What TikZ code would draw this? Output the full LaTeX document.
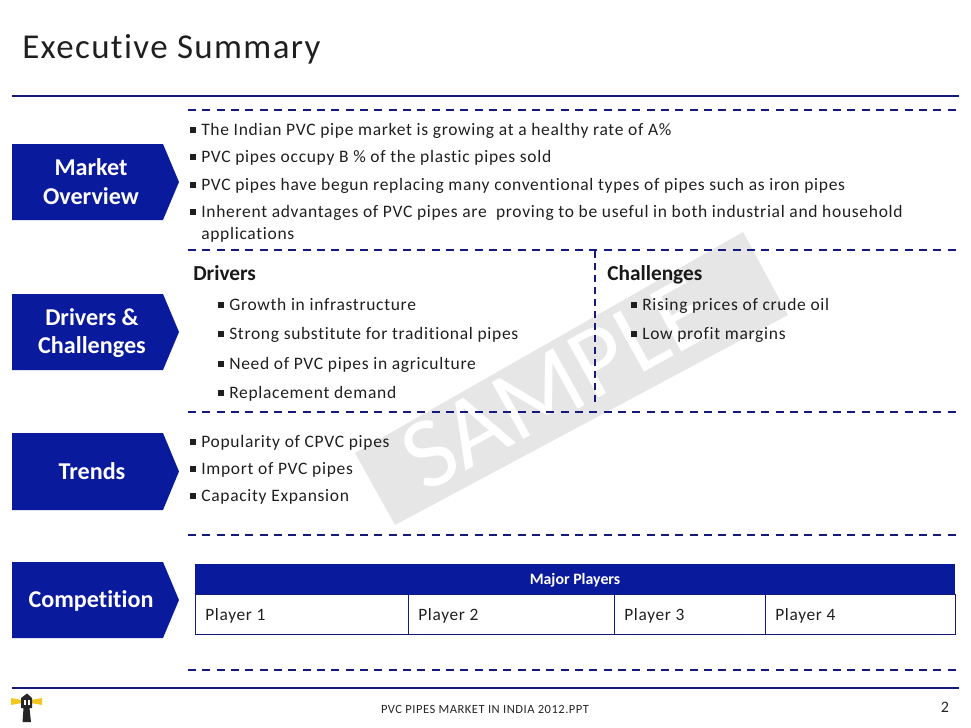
\documentclass[tikz,border=0pt]{standalone}
\usepackage{fontspec}
\setmainfont[Ligatures=NoCommon]{Carlito}
\newfontfamily\bodyfont[LetterSpace=4,Ligatures=NoCommon]{Carlito}
\definecolor{bannerblue}{HTML}{0A1A9C}
\definecolor{rulenavy}{HTML}{14197A}
\definecolor{wmgray}{HTML}{E6E6E6}
\definecolor{beam}{HTML}{F2C81E}
\newcommand\bul{\makebox[9pt][l]{\hspace{0.6pt}\rule[1.7pt]{4.1pt}{4.1pt}}}
\tikzset{
  x=0.75pt,y=-0.75pt,
  banner/.style={fill=bannerblue,draw=none},
  bannertext/.style={text=white,font=\fontsize{18.1pt}{21.6pt}\selectfont\bfseries,align=center,inner sep=0},
  body/.style={anchor=base west,inner sep=0,font=\bodyfont\fontsize{13.12pt}{16pt}\selectfont,text=black!88},
  head/.style={anchor=base west,inner sep=0,font=\fontsize{16pt}{18pt}\selectfont\bfseries,text=black!90},
  solidrule/.style={draw=rulenavy,line width=1.5pt},
  dashrule/.style={draw=rulenavy,line width=1.5pt,dash pattern=on 6pt off 4.75pt},
  dashv/.style={draw=rulenavy,line width=1.3pt,dash pattern=on 5pt off 4pt},
  cell/.style={anchor=base west,inner sep=0,font=\bodyfont\fontsize{13pt}{16pt}\selectfont,text=black!88}
}
\begin{document}
\begin{tikzpicture}
\useasboundingbox (0,0) rectangle (971,728);
% watermark
\fill[wmgray] (743,232) -- (788,315) -- (395,525) -- (355,453) -- cycle;
\node[rotate=29,text=white,inner sep=0,font=\fontsize{76pt}{76pt}\selectfont] (wm) at (556,384) {SAMPLE};
% title
\node[anchor=base west,inner sep=0,font=\fontsize{26.2pt}{30pt}\selectfont,text=black!88] (title) at (22,58) {\addfontfeature{LetterSpace=4}Executive Summary};
% rules
\coordinate (tl) at (12,96); \coordinate (tr) at (959,96);
\draw[solidrule] (tl) -- (tr);
\coordinate (bl) at (12,688); \coordinate (br) at (959,688);
\draw[solidrule] (bl) -- (br);
\foreach \yy/\nm in {110/a,250/b,412/c,535/d,670/e}{
  \coordinate (dl\nm) at (188,\yy); \coordinate (dr\nm) at (959,\yy);
  \draw[dashrule] (dl\nm) -- (dr\nm);
}
\coordinate (vt) at (595,251); \coordinate (vb) at (595,402);
\draw[dashv] (vt) -- (vb);
% banners
\foreach \yt/\yb/\nm in {144/220/m,294/370/d,433/510/t,562/638/c}{
  \fill[banner] (12,\yt) -- (163,\yt) -- (179,{(\yt+\yb)/2}) -- (163,\yb) -- (12,\yb) -- cycle;
}
\node[bannertext] (market) at (91,181.5) {Market\\Overview};
\node[bannertext] (drivers) at (92,333) {Drivers \&\\Challenges};
\node[bannertext] (trends) at (92,471) {Trends};
\node[bannertext] (comp) at (91,601) {Competition};
% market overview
\node[body] (m1) at (189,135) {\bul The Indian PVC pipe market is growing at a healthy rate of A\%};
\node[body] (m2) at (189,162) {\bul PVC pipes occupy B \% of the plastic pipes sold};
\node[body] (m3) at (189,190) {\bul PVC pipes have begun replacing many conventional types of pipes such as iron pipes};
\node[body] (m4) at (189,217) {\bul Inherent advantages of PVC pipes are\ \ proving to be useful in both industrial and household};
\node[body] (m5) at (201,239) {applications};
% drivers
\node[head] (dh) at (193,280) {Drivers};
\node[head] (ch) at (607,280) {Challenges};
\node[body] (d1) at (217,310) {\bul Growth in infrastructure};
\node[body] (d2) at (217,339) {\bul Strong substitute for traditional pipes};
\node[body] (d3) at (217,369) {\bul Need of PVC pipes in agriculture};
\node[body] (d4) at (217,398) {\bul Replacement demand};
\node[body] (c1) at (630,310) {\bul Rising prices of crude oil};
\node[body] (c2) at (630,339) {\bul Low profit margins};
% trends
\node[body] (t1) at (189,447) {\bul Popularity of CPVC pipes};
\node[body] (t2) at (189,474) {\bul Import of PVC pipes};
\node[body] (t3) at (189,501) {\bul Capacity Expansion};
% table
\fill[bannerblue] (195,564) rectangle (955,594);
\draw[draw=rulenavy,line width=0.7pt] (195,594) rectangle (955,634.5);
\foreach \xx in {408,614,765}{ \draw[draw=bannerblue,line width=0.7pt] (\xx,594) -- (\xx,634.5); }
\node[inner sep=0,text=white,font=\fontsize{11.9pt}{12pt}\selectfont\bfseries] (mp) at (575,580) {Major Players};
\node[cell] (p1) at (205,620) {Player 1};
\node[cell] (p2) at (418,620) {Player 2};
\node[cell] (p3) at (624,620) {Player 3};
\node[cell] (p4) at (775,620) {Player 4};
% footer
\node[anchor=base,inner sep=0,font=\bodyfont\fontsize{9.4pt}{11pt}\selectfont,text=black!85] (ft) at (485,713) {PVC PIPES MARKET IN INDIA 2012.PPT};
\node[anchor=base,inner sep=0,font=\fontsize{12pt}{14pt}\selectfont,text=black!85] (pg) at (945,712) {2};
% lighthouse
\fill[beam] (11,698) -- (22,700) -- (22,703) -- (11,705) -- cycle;
\fill[beam] (42,698) -- (31,700) -- (31,703) -- (42,705) -- cycle;
\fill[black!85] (21,698) -- (27,693.5) -- (32,698) -- (32,708) -- (21,708) -- cycle;
\fill[white] (24,700) rectangle (26,705);
\fill[white] (28,700) rectangle (30,705);
\fill[black!85] (23.5,708) -- (29.5,708) -- (31,722) -- (22.5,722) -- cycle;
\end{tikzpicture}
\end{document}
